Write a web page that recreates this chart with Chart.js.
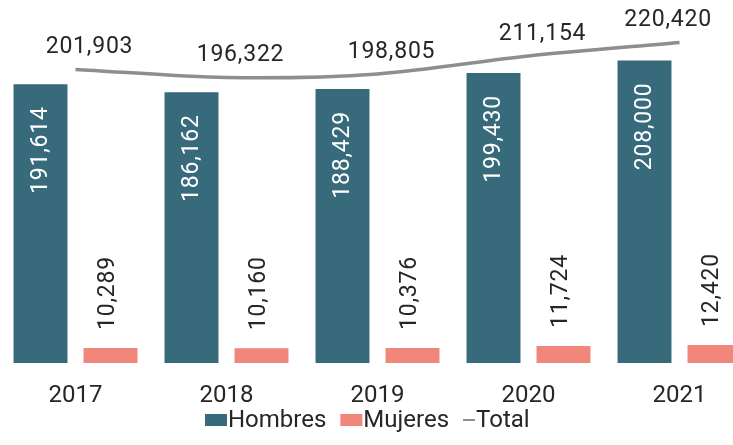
<!DOCTYPE html>
<html>
<head>
<meta charset="utf-8">
<script src="https://cdn.jsdelivr.net/npm/chart.js@4.4.1/dist/chart.umd.min.js"></script>
<style>
  html, body { margin: 0; padding: 0; overflow: hidden; background: #ffffff; }
  #wrap { width: 755px; height: 445px; position: relative; }
</style>
</head>
<body>
<div id="wrap"><canvas id="c" width="755" height="445"></canvas></div>
<script>
const years = ['2017', '2018', '2019', '2020', '2021'];
const hombres = [191614, 186162, 188429, 199430, 208000];
const mujeres = [10289, 10160, 10376, 11724, 12420];
const total = [201903, 196322, 198805, 211154, 220420];
const seriesNames = ['Hombres', 'Mujeres', 'Total'];

const FONT = 'Roboto, "Liberation Sans", Arial, sans-serif';
const fmt = v => v.toLocaleString('en-US');

const colors = { hombres: '#376a7b', mujeres: '#f0877a', total: '#8e8e8e', text: '#262626' };

const labelPlugin = {
  id: 'valueLabels',
  afterDatasetsDraw(chart) {
    const ctx = chart.ctx;
    ctx.save();
    ctx.font = '23px ' + FONT;
    try { ctx.letterSpacing = '0.8px'; } catch (e) {}
    const mh = chart.getDatasetMeta(1);
    mh.data.forEach((el, i) => {
      ctx.save();
      ctx.translate(el.x + 1, el.y + 22);
      ctx.rotate(-Math.PI / 2);
      ctx.fillStyle = '#ffffff';
      ctx.textAlign = 'right';
      ctx.textBaseline = 'middle';
      ctx.fillText(fmt(hombres[i]), 0, 0);
      ctx.restore();
    });
    const mm = chart.getDatasetMeta(2);
    mm.data.forEach((el, i) => {
      ctx.save();
      ctx.translate(el.x - 2, el.y - 18);
      ctx.rotate(-Math.PI / 2);
      ctx.fillStyle = colors.text;
      ctx.textAlign = 'left';
      ctx.textBaseline = 'middle';
      ctx.fillText(fmt(mujeres[i]), 0, 0);
      ctx.restore();
    });
    const mt = chart.getDatasetMeta(0);
    const visibleRight = 712;
    mt.data.forEach((el, i) => {
      const txt = fmt(total[i]);
      const w = ctx.measureText(txt).width;
      let cx = el.x + 14;
      if (cx + w / 2 > visibleRight) cx = visibleRight - w / 2;
      ctx.fillStyle = colors.text;
      ctx.textAlign = 'center';
      ctx.textBaseline = 'middle';
      ctx.fillText(txt, cx, el.y - 22);
    });
    ctx.restore();
  }
};

const legendPlugin = {
  id: 'customLegend',
  afterDraw(chart) {
    const ctx = chart.ctx;
    ctx.save();
    ctx.font = '24px ' + FONT;
    ctx.textBaseline = 'middle';
    ctx.textAlign = 'left';
    const y = 421;
    const items = [
      { name: seriesNames[0], type: 'box', color: colors.hombres },
      { name: seriesNames[1], type: 'box', color: colors.mujeres },
      { name: seriesNames[2], type: 'line', color: colors.total }
    ];
    let x = 205;
    items.forEach((it) => {
      if (it.type === 'box') {
        ctx.fillStyle = it.color;
        ctx.fillRect(x, y - 7, 22, 12);
        x += 23;
      } else {
        ctx.strokeStyle = it.color;
        ctx.lineWidth = 2;
        ctx.beginPath();
        ctx.moveTo(x, y - 1);
        ctx.lineTo(x + 12, y - 1);
        ctx.stroke();
        x += 13;
      }
      ctx.fillStyle = colors.text;
      ctx.fillText(it.name, x, y);
      x += ctx.measureText(it.name).width + 14;
    });
    ctx.restore();
  }
};

new Chart(document.getElementById('c'), {
  data: {
    labels: years,
    datasets: [
      {
        type: 'line', label: seriesNames[2], data: total,
        borderColor: colors.total, borderWidth: 3.5, pointRadius: 0,
        tension: 0.3, fill: false, order: 0
      },
      {
        type: 'bar', label: seriesNames[0], data: hombres,
        backgroundColor: colors.hombres, order: 1,
        categoryPercentage: 0.927, barPercentage: 0.771
      },
      {
        type: 'bar', label: seriesNames[1], data: mujeres,
        backgroundColor: colors.mujeres, order: 1,
        categoryPercentage: 0.927, barPercentage: 0.771
      }
    ]
  },
  options: {
    responsive: false,
    animation: false,
    layout: { padding: { top: 14, bottom: 42, left: 0, right: 0 } },
    plugins: { legend: { display: false }, tooltip: { enabled: false } },
    scales: {
      x: {
        grid: { display: false, drawTicks: false },
        border: { display: false },
        ticks: { color: colors.text, font: { family: FONT, size: 24 }, padding: 19, maxRotation: 0 },
        afterFit(scale) { scale.height = 40; }
      },
      y: {
        display: false, min: 0, max: 240000
      }
    }
  },
  plugins: [labelPlugin, legendPlugin]
});
</script>
</body>
</html>
